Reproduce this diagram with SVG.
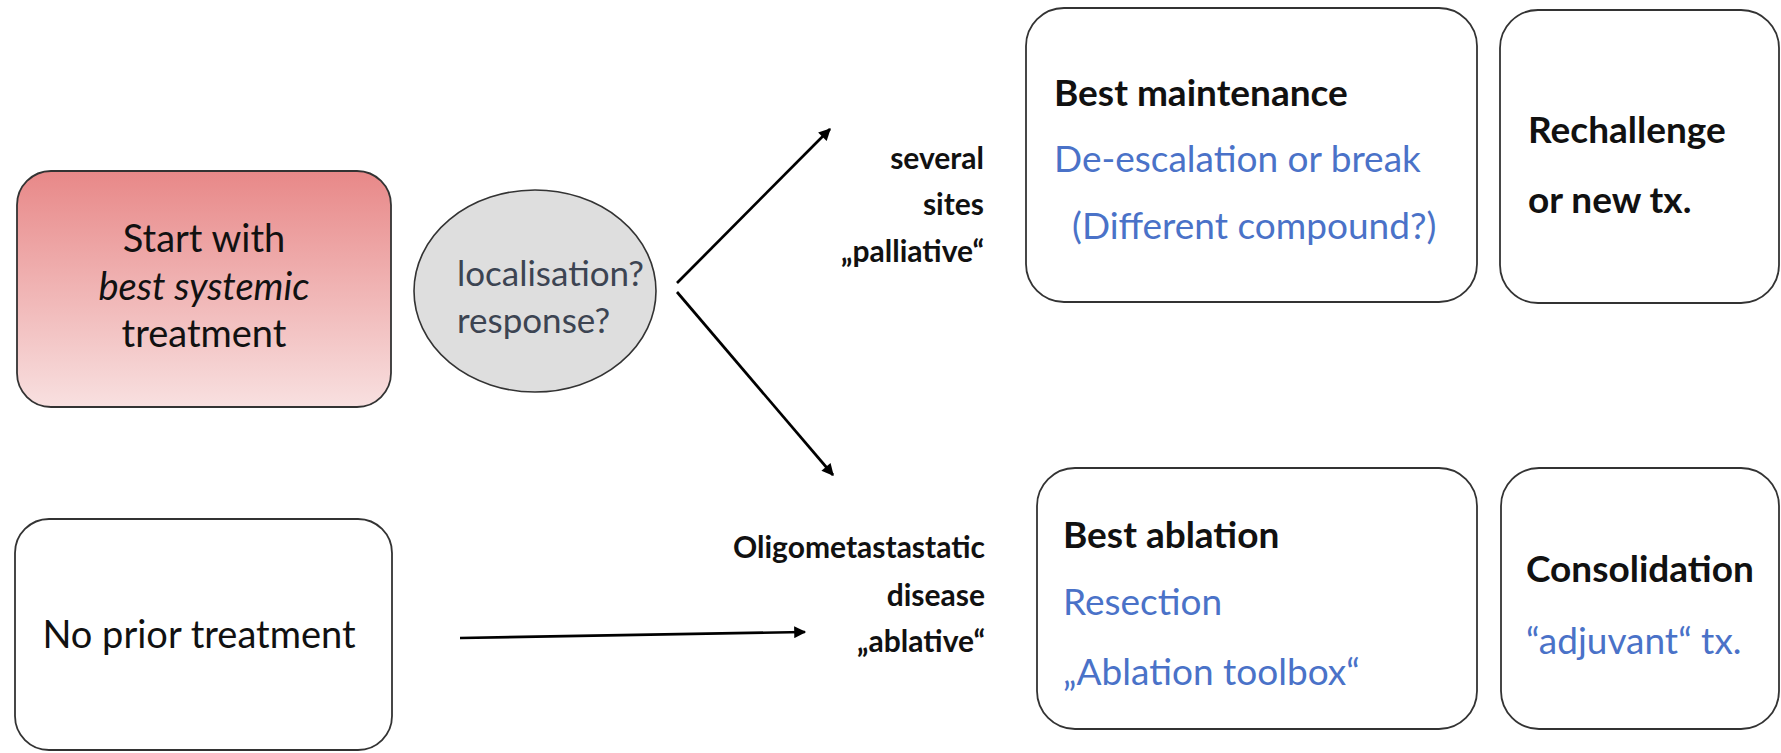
<svg xmlns="http://www.w3.org/2000/svg" width="1781" height="753" viewBox="0 0 1781 753">
<style>
.box{fill:#ffffff;stroke:#333333;stroke-width:1.8}
.t{font-family:Lato,"Open Sans","Liberation Sans",sans-serif;fill:#111111}
.big{font-size:38px}
.hd{font-size:37px;font-weight:bold}
.blue{font-size:37px;fill:#4a72c8}
.lbl{font-size:30px;font-weight:bold;text-anchor:end}
.q{font-size:35px;fill:#3c4452}
.conn{stroke:#000000;stroke-width:2.7;fill:none;marker-end:url(#arr)}
</style>
<defs>
<linearGradient id="red" x1="0" y1="0" x2="0" y2="1">
<stop offset="0" stop-color="#e88888"/>
<stop offset="1" stop-color="#f8e0e0"/>
</linearGradient>
<marker id="arr" viewBox="0 0 10 10" refX="9" refY="5" markerWidth="14" markerHeight="12" markerUnits="userSpaceOnUse" orient="auto">
<path d="M0,0 L10,5 L0,10 z" fill="#000000"/>
</marker>
</defs>
<rect width="1781" height="753" fill="#ffffff"/>

<g id="start">
<rect x="17" y="171" width="374" height="236" rx="34" ry="34" fill="url(#red)" stroke="#333333" stroke-width="1.8"/>
<text class="t big" x="204" y="252" text-anchor="middle" fill="#1a1a2a">Start with</text>
<text class="t big" x="204" y="300" text-anchor="middle" font-style="italic" fill="#1a1a2a">best systemic</text>
<text class="t big" x="204" y="347" text-anchor="middle" fill="#1a1a2a">treatment</text>
</g>

<g id="question">
<ellipse cx="535" cy="291" rx="121" ry="101" fill="#dedede" stroke="#333333" stroke-width="1.6"/>
<text class="t q" x="457" y="286">localisation?</text>
<text class="t q" x="457" y="333">response?</text>
</g>

<g id="noprior">
<rect class="box" x="15" y="519" width="377" height="231" rx="34" ry="34"/>
<text class="t big" x="199" y="648" text-anchor="middle">No prior treatment</text>
</g>

<g id="label-palliative">
<text class="t lbl" x="984" y="169">several</text>
<text class="t lbl" x="984" y="215">sites</text>
<text class="t lbl" x="984" y="262">„palliative“</text>
</g>

<g id="label-ablative">
<text class="t lbl" x="985" y="558">Oligometastastatic</text>
<text class="t lbl" x="985" y="606">disease</text>
<text class="t lbl" x="985" y="652">„ablative“</text>
</g>

<g id="maintenance">
<rect class="box" x="1026" y="8" width="451" height="294" rx="38" ry="38"/>
<text class="t hd" x="1054" y="106">Best maintenance</text>
<text class="t blue" x="1054" y="172">De-escalation or break</text>
<text class="t blue" x="1072" y="239">(Different compound?)</text>
</g>

<g id="rechallenge">
<rect class="box" x="1500" y="10" width="279" height="293" rx="38" ry="38"/>
<text class="t hd" x="1528" y="143">Rechallenge</text>
<text class="t hd" x="1528" y="213">or new tx.</text>
</g>

<g id="ablation">
<rect class="box" x="1037" y="468" width="440" height="261" rx="38" ry="38"/>
<text class="t hd" x="1063" y="548">Best ablation</text>
<text class="t blue" x="1063" y="615">Resection</text>
<text class="t blue" x="1063" y="685">„Ablation toolbox“</text>
</g>

<g id="consolidation">
<rect class="box" x="1501" y="468" width="278" height="261" rx="38" ry="38"/>
<text class="t hd" x="1526" y="582">Consolidation</text>
<text class="t blue" x="1526" y="654">“adjuvant“ tx.</text>
</g>

<g id="connectors">
<line class="conn" x1="677" y1="283" x2="830" y2="129"/>
<line class="conn" x1="677" y1="292" x2="833" y2="475"/>
<line class="conn" x1="460" y1="638" x2="805" y2="632"/>
</g>
</svg>
